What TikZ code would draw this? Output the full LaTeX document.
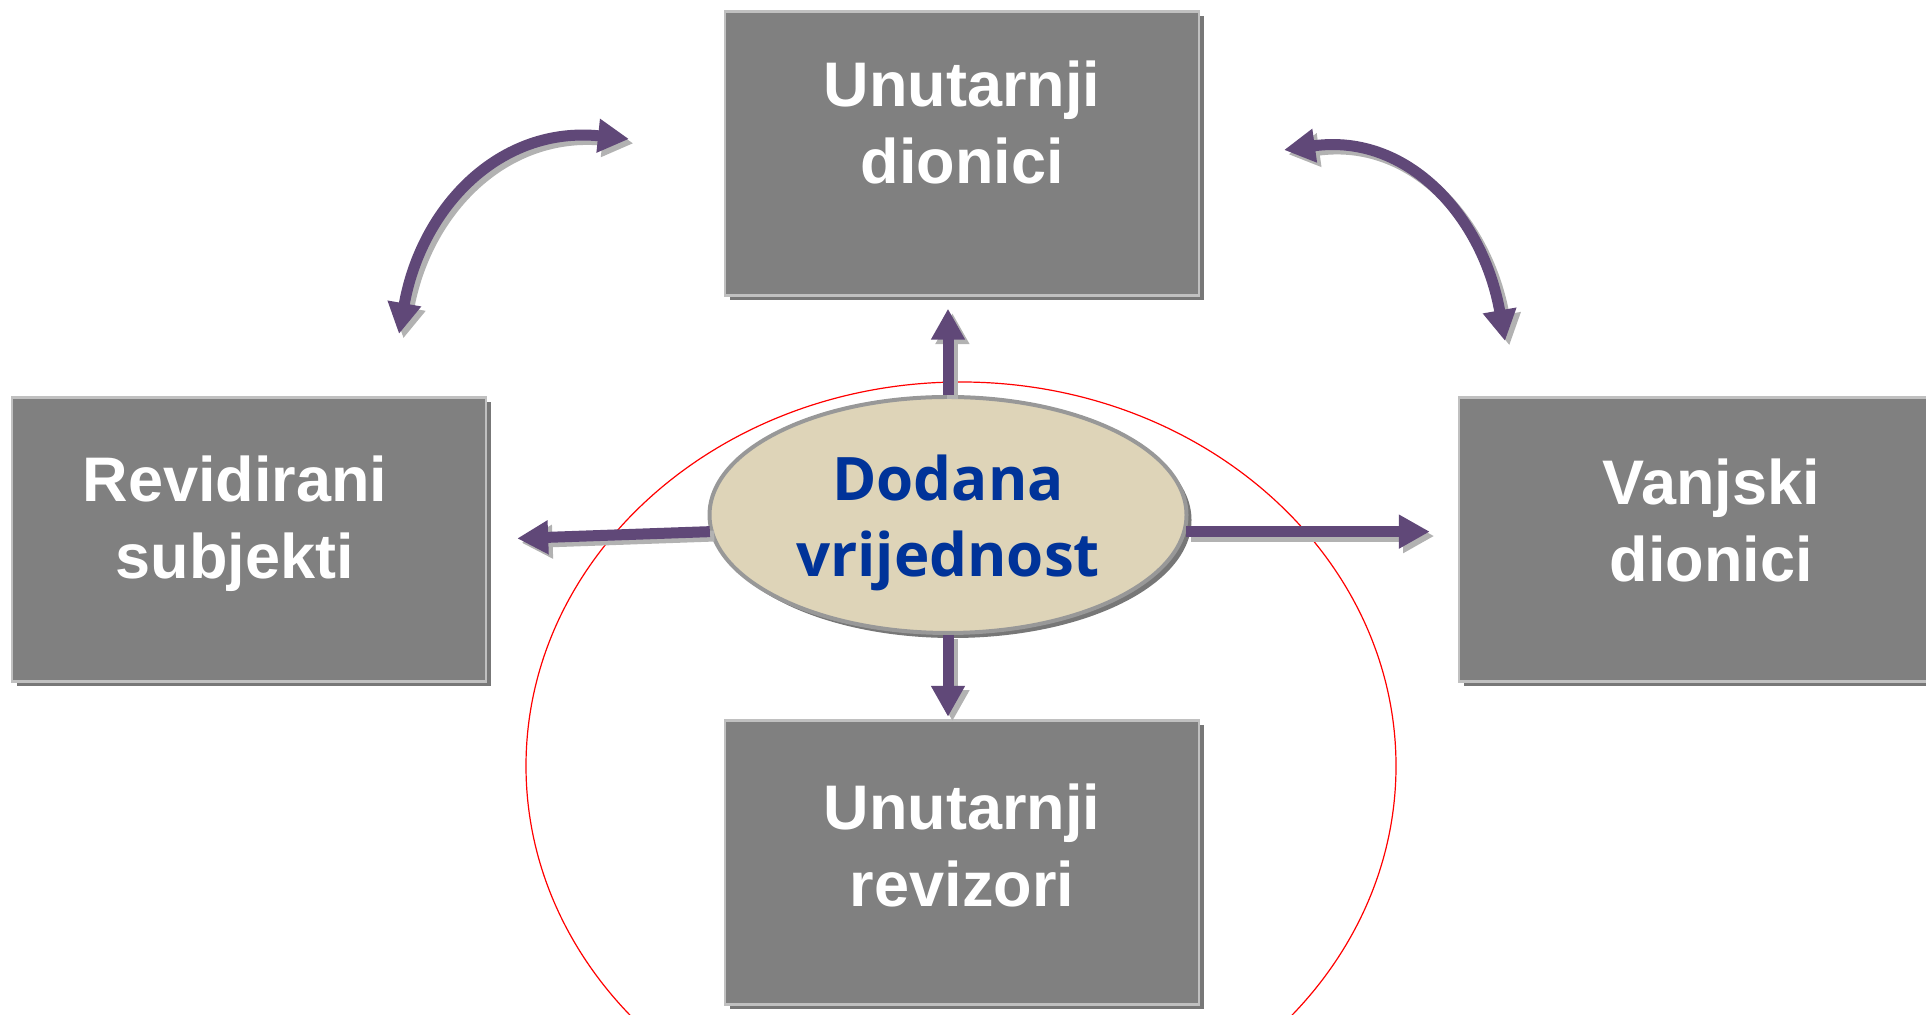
\documentclass[tikz,border=0pt]{standalone}
\usepackage{fontspec}
\usetikzlibrary{arrows.meta, shapes.geometric, shadows}
\newfontfamily\labelfont{Liberation Sans}
\newfontfamily\valuefont{Open Sans}
\definecolor{boxgrey}{HTML}{808080}
\definecolor{boxrim}{HTML}{C0C0C0}
\definecolor{darkshadow}{HTML}{777777}
\definecolor{arrowpurple}{HTML}{604878}
\definecolor{arrowshadow}{HTML}{B2B2B2}
\definecolor{sand}{HTML}{DED4B8}
\definecolor{sandrim}{HTML}{989898}
\definecolor{valueblue}{HTML}{003399}

\begin{document}
\begin{tikzpicture}[x=0.5pt, y=0.5pt,
	greybox/.style={rectangle, fill=boxgrey, draw=boxrim, line width=1.2pt, minimum width=237pt, minimum height=142pt, inner sep=0pt,
		drop shadow={shadow xshift=2.5pt, shadow yshift=-2.5pt, fill=darkshadow, opacity=1}},
	boxtext/.style={anchor=north, inner sep=0pt, align=center, text=white, font=\labelfont\bfseries\fontsize{31.5}{38.5}\selectfont},
	valuetext/.style={anchor=north, inner sep=0pt, align=center, text=valueblue, font=\valuefont\bfseries\fontsize{30}{38}\selectfont},
	fat/.style={line width=5.5pt, -{Triangle[length=15.5pt, width=16pt]}},
	fatboth/.style={line width=5.5pt, {Triangle[length=15.5pt, width=16pt]}-{Triangle[length=15.5pt, width=16pt]}}]

\clip (0,0) rectangle (1926,1015);

\draw[red, line width=0.6pt] (961,249) ellipse [x radius=435, y radius=384];

\node[greybox] (topbox) at (962,861.5) {};
\node[greybox] (leftbox) at (249,475.5) {};
\node[greybox] (rightbox) at (1696,475.5) {};
\node[greybox] (bottombox) at (962,152.5) {};

\node[ellipse, fill=sand, draw=sandrim, line width=2pt, minimum width=238.5pt, minimum height=118pt, inner sep=0pt,
	drop shadow={shadow xshift=2.5pt, shadow yshift=-2.5pt, fill=darkshadow, opacity=1}] (vrijednost) at (948,500) {};

\coordinate (lefttail) at (399,681);
\coordinate (lefthead) at (629,876);
\coordinate (righttail) at (1284,865);
\coordinate (righthead) at (1505,674);

\foreach \col/\dd in {arrowshadow/2.2pt, arrowpurple/0pt}
{
	\begin{scope}[transform canvas={shift={(\dd,-\dd)}}, color=\col]
	\draw[fat, shorten >=6pt] (vrijednost.north) -- (vrijednost.north |- topbox.south);
	\draw[fat, shorten >=1.25pt] (vrijednost.south) -- (vrijednost.south |- bottombox.north);
	\draw[fat, shorten >=15pt] (vrijednost.184) -- (leftbox.east);
	\draw[fat, shorten >=14pt] (vrijednost.356) -- (vrijednost.356 -| rightbox.west);
	\draw[fatboth] (lefttail) to[out=80, in=174, looseness=1.1] (lefthead);
	\draw[fatboth] (righttail) to[out=8, in=100, looseness=1.1] (righthead);
	\end{scope}
}

\node[boxtext] (topText) at ([yshift=-25.25pt]topbox.north) {Unutarnji\\dionici};
\node[boxtext] (leftText) at ([xshift=-7pt, yshift=-29.75pt]leftbox.north) {Revidirani\\subjekti};
\node[boxtext] (rightText) at ([xshift=7.5pt, yshift=-31.25pt]rightbox.north) {Vanjski\\dionici};
\node[boxtext] (bottomText) at ([yshift=-32.25pt]bottombox.north) {Unutarnji\\revizori};
\node[valuetext] (valueText) at ([yshift=30pt]vrijednost.center) {Dodana\\vrijednost};
\end{tikzpicture}
\end{document}
